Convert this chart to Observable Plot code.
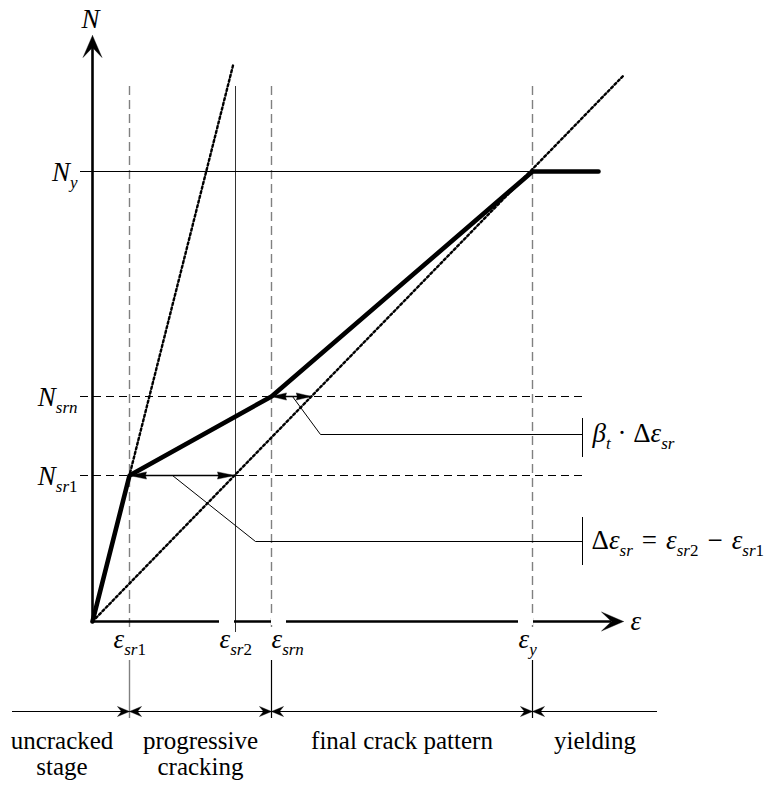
<!DOCTYPE html>
<html>
<head>
<meta charset="utf-8">
<script src="https://cdn.jsdelivr.net/npm/d3@7"></script>
<script src="https://cdn.jsdelivr.net/npm/@observablehq/plot@0.6"></script>
<style>
  body { margin: 0; background: #fff; }
  #chart svg { display: block; }
</style>
</head>
<body>
<div id="chart"></div>
<script>
// Idealised tension-stiffening diagram of a reinforced concrete tie:
// axial force N versus mean strain ε, with the four behaviour stages below.

// Characteristic strains (schematic units)
const strainNames = ["ε_{sr1}", "ε_{sr2}", "ε_{srn}", "ε_{y}"];
const strainValues = [37, 143, 179, 440];

// Characteristic forces (schematic units)
const forceNames = ["N_{sr1}", "N_{srn}", "N_{y}"];
const forceValues = [146, 225, 450];

// Member response: uncracked → crack formation → stabilised cracking → yielding
const responseStrain = [0, 37, 179, 440, 506];
const responseForce = [0, 146, 225, 450, 450];

// Reference stiffness lines (dotted)
const uncrackedLine = [[0, 0], [141, 558]];
const bareSteelLine = [[0, 0], [531, 546]];

// Stage labels along the lower strip and their boundaries
const stageNames = ["uncracked\nstage", "progressive\ncracking", "final crack pattern", "yielding"];
const stageBounds = [-80, 37, 179, 440, 565];

// Annotation texts
const deltaLabel = "Δε_{sr}\u2004=\u2004ε_{sr2}\u2004−\u2004ε_{sr1}";
const betaLabel = "β_{t} · Δε_{sr}";

// ---------------------------------------------------------------------------
const [eSr1, eSr2, eSrn, eY] = strainValues;
const [nSr1, nSrn, nY] = forceValues;
const steelSlope = bareSteelLine[1][1] / bareSteelLine[1][0];
const steelStrain = (n) => n / steelSlope;

const yTop = 586, xEnd = 531;       // axis arrow tips
const guideTop = 535, guideBottom = -11;
const stripY = -90, tickTop = -39, tickBottom = -97;
const leaderEnd = 490;

const response = responseStrain.map((x, i) => ({x, y: responseForce[i]}));

// filled arrowhead polygon: tip, one barb, notch, other barb
function head(id, tip, dir, L, W, notch) {
  const [tx, ty] = tip, [dx, dy] = dir;
  const nx = -dy, ny = dx;
  const bx = tx - dx * L, by = ty - dy * L;
  return [
    {id, x: tx, y: ty},
    {id, x: bx + nx * W, y: by + ny * W},
    {id, x: tx - dx * (L - notch), y: ty - dy * (L - notch)},
    {id, x: bx - nx * W, y: by - ny * W},
    {id, x: tx, y: ty}
  ];
}

const heads = [
  ...head("yaxis", [0, yTop], [0, 1], 22, 9.5, 10),
  ...head("xaxis", [xEnd, 0], [1, 0], 22, 9.5, 10),
  ...head("sr1L", [eSr1, nSr1], [-1, 0], 17, 3.6, 1),
  ...head("sr1R", [steelStrain(nSr1), nSr1], [1, 0], 17, 3.6, 1),
  ...head("srnL", [eSrn, nSrn], [-1, 0], 15, 3.6, 1),
  ...head("srnR", [steelStrain(nSrn), nSrn], [1, 0], 15, 3.6, 1),
  ...stageBounds.slice(1, -1).flatMap((v, i) => [
    ...head("bL" + i, [v, stripY], [1, 0], 12, 5, 4),
    ...head("bR" + i, [v, stripY], [-1, 0], 12, 5, 4)
  ])
];

// leader lines from the two dimension arrows to their labels
const deltaLeader = [
  {x: 80, y: nSr1}, {x: 163, y: 80}, {x: leaderEnd, y: 80}
];
const betaLeader = [
  {x: 200, y: nSrn}, {x: 228, y: 187}, {x: leaderEnd, y: 187}
];

// strain labels under the axis (offset of the ε glyph from its line)
const strainLabelShift = [-16, -16, 0, -14];
const strainLabels = strainNames.map((name, i) => ({
  name, x: strainValues[i] + strainLabelShift[i], gap: i > 0
}));

const forceLabels = forceNames.map((name, i) => ({name, y: forceValues[i] - 9}));

// stage names centred in their intervals (the open first interval nudged inwards)
const stages = stageNames.map((name, i) => ({
  name, x: (stageBounds[i] + stageBounds[i + 1]) / 2 - (i === 0 ? 9 : 0)
}));

const serif = "Liberation Serif, Times New Roman, DejaVu Serif, serif";
const math = {fontFamily: serif, fontSize: 27, lineAnchor: "bottom"};

const chart = Plot.plot({
  width: 779,
  height: 786,
  margin: 0,
  x: {domain: [-92, 687], axis: null},
  y: {domain: [-165, 621], axis: null},
  style: {background: "white"},
  marks: [
    // vertical guides at the characteristic strains
    Plot.ruleX([eSr1, eSrn, eY], {y1: guideTop, y2: guideBottom, stroke: "#808080", strokeWidth: 1.4, strokeDasharray: "9,5"}),
    Plot.ruleX([eSr2], {y1: guideTop, y2: guideBottom, stroke: "#333", strokeWidth: 1}),
    // horizontal guides at the characteristic forces
    Plot.ruleY([nSr1, nSrn], {x1: -12, x2: leaderEnd, stroke: "black", strokeWidth: 1, strokeDasharray: "8,5"}),
    Plot.ruleY([nY], {x1: -12, x2: eY, stroke: "black", strokeWidth: 1}),
    // axes
    Plot.ruleX([0], {y1: 0, y2: yTop - 12, stroke: "black", strokeWidth: 2.6}),
    Plot.ruleY([0], {x1: 0, x2: xEnd - 12, stroke: "black", strokeWidth: 2.6}),
    Plot.rect(strainLabels.filter(d => d.gap), {x1: d => d.x, x2: d => d.x + 15, y1: -4, y2: 4, fill: "white"}),
    // stiffness reference lines
    Plot.line(uncrackedLine, {x: d => d[0], y: d => d[1], stroke: "black", strokeWidth: 2.4, strokeDasharray: "2.2,2.6"}),
    Plot.line(bareSteelLine, {x: d => d[0], y: d => d[1], stroke: "black", strokeWidth: 2.4, strokeDasharray: "2.2,2.6"}),
    // response
    Plot.line(response, {x: "x", y: "y", stroke: "black", strokeWidth: 4.6, strokeLinejoin: "miter"}),
    // dimension lines
    Plot.ruleY([nSr1], {x1: eSr1, x2: steelStrain(nSr1), stroke: "black", strokeWidth: 1.4}),
    Plot.ruleY([nSrn], {x1: eSrn, x2: steelStrain(nSrn), stroke: "black", strokeWidth: 1.4}),
    // leaders and label bars
    Plot.line(deltaLeader, {x: "x", y: "y", stroke: "black", strokeWidth: 1}),
    Plot.line(betaLeader, {x: "x", y: "y", stroke: "black", strokeWidth: 1}),
    Plot.ruleX([leaderEnd], {y1: 104, y2: 56, stroke: "black", strokeWidth: 1}),
    Plot.ruleX([leaderEnd], {y1: 203, y2: 164, stroke: "black", strokeWidth: 1}),
    // stage strip
    Plot.ruleY([stripY], {x1: stageBounds[0], x2: stageBounds[stageBounds.length - 1], stroke: "black", strokeWidth: 1.2}),
    Plot.ruleX([stageBounds[1]], {y1: tickTop, y2: tickBottom, stroke: "#808080", strokeWidth: 1.4}),
    Plot.ruleX(stageBounds.slice(2, -1), {y1: tickTop, y2: tickBottom, stroke: "black", strokeWidth: 1.2}),
    // arrowheads
    Plot.line(heads, {x: "x", y: "y", z: "id", fill: "black", stroke: "black", strokeWidth: 0.4}),
    // math labels
    Plot.text(["N"], {...math, x: -2, y: 594, textAnchor: "middle"}),
    Plot.text(["ε"], {...math, x: 538, y: -8, textAnchor: "start"}),
    Plot.text(forceLabels, {...math, x: -15, y: "y", text: "name", textAnchor: "end"}),
    Plot.text(strainLabels, {...math, x: "x", y: -26, text: "name", textAnchor: "start"}),
    Plot.text([betaLabel], {...math, x: 500, y: 180, textAnchor: "start"}),
    Plot.text([deltaLabel], {...math, x: 499, y: 73, textAnchor: "start"}),
    // stage names
    Plot.text(stages, {x: "x", y: -109, text: "name", textAnchor: "middle", lineAnchor: "top", fontFamily: serif, fontSize: 25, lineHeight: 1.04})
  ]
});

// Typeset math labels: letters italic, subscripts smaller and lowered
const svgNS = "http://www.w3.org/2000/svg";
function typeset(el, subSize, shift) {
  const parts = el.textContent.split(/_\{([^}]*)\}/);
  el.textContent = "";
  let lowered = false;
  parts.forEach((part, i) => {
    const isSub = i % 2 === 1;
    const runs = part.match(/[A-Za-z\u03B1-\u03C9]+|[^A-Za-z\u03B1-\u03C9]+/g) || [];
    runs.forEach((run, j) => {
      const t = document.createElementNS(svgNS, "tspan");
      t.textContent = run;
      t.setAttribute("font-style", /[A-Za-z\u03B1-\u03C9]/.test(run) ? "italic" : "normal");
      if (isSub) t.setAttribute("font-size", subSize);
      if (j === 0) {
        if (isSub && !lowered) { t.setAttribute("dy", shift); lowered = true; }
        else if (!isSub && lowered) { t.setAttribute("dy", -shift); lowered = false; }
      }
      el.appendChild(t);
    });
  });
}
d3.select(chart).selectAll("text").each(function () {
  if (/[_NεβΔ]/.test(this.textContent)) typeset(this, 17, 7);
});

document.getElementById("chart").appendChild(chart);
</script>
</body>
</html>
